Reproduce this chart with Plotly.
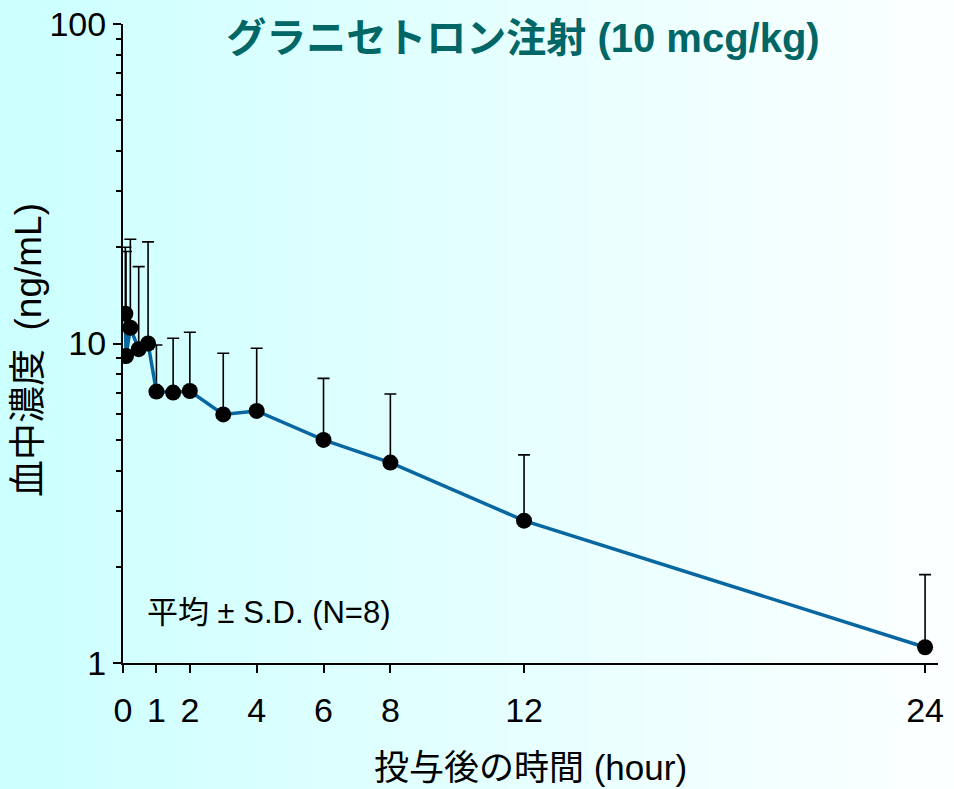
import plotly.graph_objects as go

# Data
time_h = [0.07, 0.09, 0.22, 0.47, 0.75, 1, 1.5, 2, 3, 4, 6, 8, 12, 24]
mean_conc = [12.4, 9.14, 11.2, 9.6, 10.0, 7.07, 7.02, 7.1, 6.0, 6.15, 4.99, 4.24, 2.79, 1.12]
upper_conc = [20.0, 19.4, 21.2, 17.4, 20.8, 9.89, 10.38, 10.84, 9.32, 9.66, 7.78, 6.95, 4.48, 1.89]
sd = [u - m for u, m in zip(upper_conc, mean_conc)]

x_ticks = [0, 1, 2, 4, 6, 8, 12, 24]
y_major = [1, 10, 100]
y_minor = [2, 3, 4, 5, 6, 7, 8, 9, 20, 30, 40, 50, 60, 70, 80, 90]

title_text = "グラニセトロン注射 (10 mcg/kg)"
x_title = "投与後の時間 (hour)"
y_title = "血中濃度\u2002(ng/mL)"
note_text = "平均 ± S.D. (N=8)"

FONT = "Liberation Sans, Arial, Noto Sans CJK JP, sans-serif"

fig = go.Figure()
fig.add_trace(go.Scatter(
    x=time_h, y=mean_conc,
    mode="lines+markers",
    line=dict(color="#0866A0", width=3.5),
    marker=dict(color="black", size=16),
    error_y=dict(type="data", symmetric=False, array=sd,
                 arrayminus=[0] * len(sd), color="black",
                 thickness=1.6, width=6),
    showlegend=False,
))

# horizontal background gradient (cyan -> white)
W, H = 954, 789
L, R, T, B = 123, 16, 24, 126
pw, ph = W - L - R, H - T - B
n = 120
c0 = (204, 255, 255)
c1 = (252, 255, 255)
shapes = []
for i in range(n):
    f = i / (n - 1)
    col = tuple(round(c0[k] + (c1[k] - c0[k]) * f) for k in range(3))
    x0 = i * W / n
    x1 = (i + 1) * W / n + 1
    shapes.append(dict(
        type="rect", xref="paper", yref="paper", layer="below",
        x0=(x0 - L) / pw, x1=(x1 - L) / pw,
        y0=-B / ph, y1=1 + T / ph,
        line=dict(width=0), fillcolor="rgb(%d,%d,%d)" % col,
    ))

fig.update_layout(
    width=W, height=H,
    margin=dict(l=L, r=R, t=T, b=B, autoexpand=False),
    paper_bgcolor="rgb(252,255,255)",
    plot_bgcolor="rgba(0,0,0,0)",
    shapes=shapes,
    font=dict(family=FONT, color="black"),
    title=dict(text="<b>" + title_text + "</b>", xref="container", yref="container",
               x=523 / W, y=1 - 38 / H, xanchor="center", yanchor="middle",
               font=dict(size=40, color="#006666", family=FONT)),
    xaxis=dict(
        range=[0, (W - R - L) / 33.42], showgrid=False, zeroline=False,
        showline=True, linecolor="black", linewidth=2, automargin=False,
        tickmode="array", tickvals=x_ticks,
        ticks="outside", ticklen=8, tickwidth=2, tickcolor="black",
        ticklabelstandoff=8,
        tickfont=dict(size=34, family=FONT),
        title=dict(text=x_title, font=dict(size=35, family=FONT), standoff=28),
    ),
    yaxis=dict(
        type="log", range=[0, 2], showgrid=False, zeroline=False,
        showline=True, linecolor="black", linewidth=2, automargin=False,
        tickmode="array", tickvals=y_major, ticktext=[str(v) for v in y_major],
        ticks="outside", ticklen=8, tickwidth=2, tickcolor="black",
        tickfont=dict(size=34, family=FONT),
        minor=dict(tickmode="array", tickvals=y_minor, ticks="outside",
                   ticklen=5, tickwidth=2, tickcolor="black", showgrid=False),
    ),
    annotations=[
        dict(text=note_text, xref="paper", yref="paper",
             x=(145 - L) / pw, y=(H - B - 612) / ph, xanchor="left", yanchor="middle",
             showarrow=False, font=dict(size=31, family=FONT, color="black")),
        dict(text=y_title, xref="paper", yref="paper", textangle=-90,
             x=(28 - L) / pw, y=(H - B - 350) / ph, xanchor="center", yanchor="middle",
             showarrow=False, font=dict(size=37, family=FONT, color="black")),
    ],
)

fig.write_html("out.html")
